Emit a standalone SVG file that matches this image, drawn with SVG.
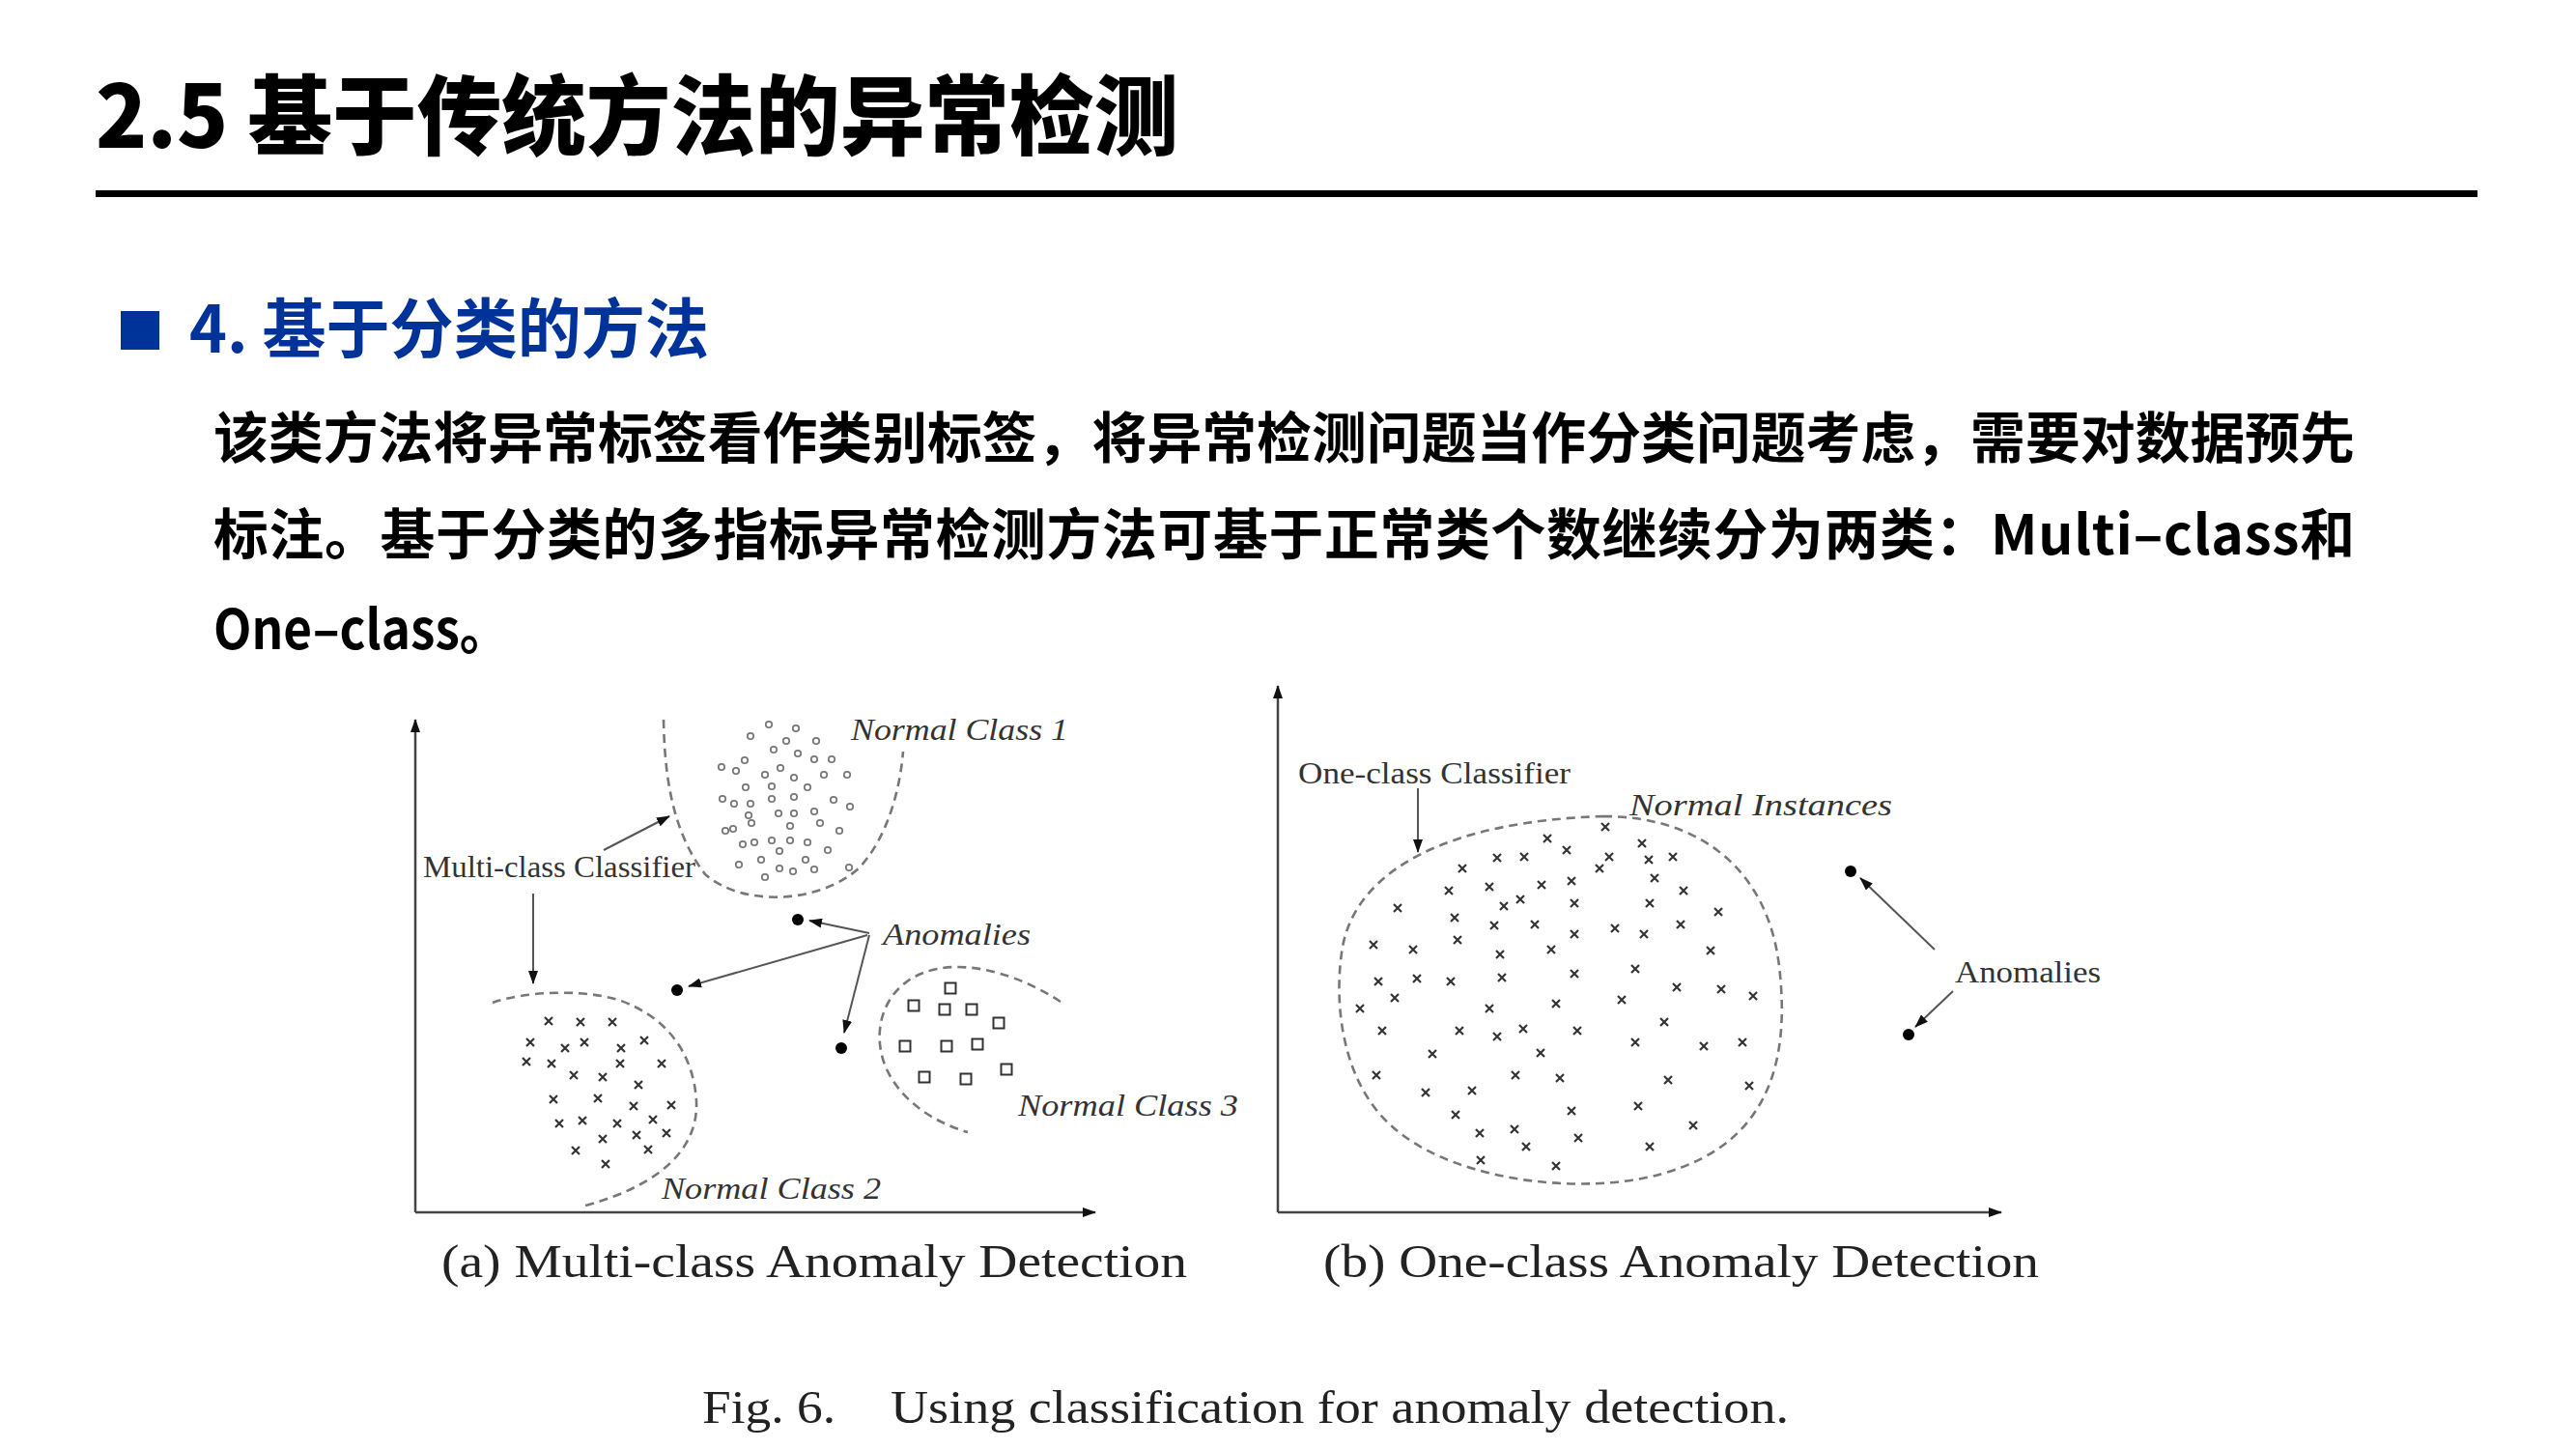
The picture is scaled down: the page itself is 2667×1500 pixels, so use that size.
<svg xmlns="http://www.w3.org/2000/svg" xmlns:xlink="http://www.w3.org/1999/xlink" width="2667" height="1500" viewBox="0 0 2667 1500">
<style>
.cjk{font-family:"Noto Sans CJK SC","Noto Sans",sans-serif;font-weight:700}
.ttl{font-size:90px;fill:#000;font-weight:900}
.h2{font-size:67px;fill:#003399}
.para{font-size:56.8px;fill:#000}
.lbl{font-family:"Liberation Serif","DejaVu Serif",serif;font-size:32px;fill:#333}
.it{font-style:italic}
.cap{font-family:"Liberation Serif","DejaVu Serif",serif;font-size:48px;fill:#222}
.axis{stroke:#444;stroke-width:2.5;fill:none}
.dash{stroke:#777;stroke-width:2.6;fill:none;stroke-dasharray:9 6}
.arr{stroke:#555;stroke-width:2;fill:none}
.xm{stroke:#333;stroke-width:2.2;fill:none}
.dot{stroke:#777;stroke-width:1.8;fill:#fff}
.sq{stroke:#333;stroke-width:2;fill:#fff}
.an{fill:#000}
</style>
<defs>
<marker id="ah" markerUnits="userSpaceOnUse" markerWidth="14" markerHeight="10" refX="13" refY="5" orient="auto">
<path d="M0,0 L14,5 L0,10 z" fill="#111"/>
</marker>
<path id="x" d="M-4,-4 L4,4 M-4,4 L4,-4" class="xm"/>
<circle id="o" r="3.2" class="dot"/>
<rect id="s" x="-5.5" y="-5.5" width="11" height="11" class="sq"/>
</defs>
<rect width="2667" height="1500" fill="#fff"/>

<g id="title">
<text class="cjk ttl" x="99" y="153" textLength="1121" lengthAdjust="spacingAndGlyphs">2.5 基于传统方法的异常检测</text>
<rect x="99" y="197" width="2466" height="7" fill="#000"/>
</g>

<g id="section-heading">
<rect x="125" y="322" width="40" height="40" fill="#003399"/>
<text class="cjk h2" x="196" y="365" textLength="538" lengthAdjust="spacingAndGlyphs">4. 基于分类的方法</text>
</g>

<g id="paragraph">
<text class="cjk para" x="221" y="474" textLength="2217" lengthAdjust="spacing">该类方法将异常标签看作类别标签，将异常检测问题当作分类问题考虑，需要对数据预先</text>
<text class="cjk para" x="221" y="574" textLength="2217" lengthAdjust="spacing">标注。基于分类的多指标异常检测方法可基于正常类个数继续分为两类：Multi–class和</text>
<text class="cjk para" x="221" y="672" textLength="306" lengthAdjust="spacingAndGlyphs">One–class。</text>
</g>

<g id="panel-a">
<g id="axes-a">
<path class="axis" d="M430,1255 L430,745" marker-end="url(#ah)"/>
<path class="axis" d="M430,1255 L1134,1255" marker-end="url(#ah)"/>
</g>
<g id="class1">
<path class="dash" d="M687,745 C688,800 695,860 730,905 C770,940 850,935 890,898 C920,865 932,815 935,778"/>
<use href="#o" x="796" y="750"/><use href="#o" x="824" y="754"/><use href="#o" x="777" y="762"/><use href="#o" x="814" y="767"/>
<use href="#o" x="845" y="767"/><use href="#o" x="801" y="776"/><use href="#o" x="826" y="780"/><use href="#o" x="771" y="787"/>
<use href="#o" x="843" y="786"/><use href="#o" x="861" y="786"/><use href="#o" x="747" y="794"/><use href="#o" x="762" y="798"/>
<use href="#o" x="808" y="795"/><use href="#o" x="792" y="802"/><use href="#o" x="822" y="805"/><use href="#o" x="853" y="802"/>
<use href="#o" x="877" y="802"/><use href="#o" x="772" y="815"/><use href="#o" x="799" y="814"/><use href="#o" x="836" y="815"/>
<use href="#o" x="748" y="827"/><use href="#o" x="760" y="832"/><use href="#o" x="777" y="832"/><use href="#o" x="799" y="827"/>
<use href="#o" x="822" y="825"/><use href="#o" x="863" y="828"/><use href="#o" x="880" y="835"/><use href="#o" x="775" y="844"/>
<use href="#o" x="806" y="842"/><use href="#o" x="822" y="842"/><use href="#o" x="843" y="840"/><use href="#o" x="778" y="852"/>
<use href="#o" x="818" y="855"/><use href="#o" x="849" y="852"/><use href="#o" x="869" y="860"/><use href="#o" x="751" y="860"/>
<use href="#o" x="759" y="858"/><use href="#o" x="769" y="874"/><use href="#o" x="781" y="872"/><use href="#o" x="799" y="870"/>
<use href="#o" x="818" y="870"/><use href="#o" x="836" y="872"/><use href="#o" x="857" y="880"/><use href="#o" x="807" y="881"/>
<use href="#o" x="788" y="890"/><use href="#o" x="834" y="890"/><use href="#o" x="765" y="895"/><use href="#o" x="807" y="899"/>
<use href="#o" x="821" y="902"/><use href="#o" x="843" y="900"/><use href="#o" x="879" y="898"/><use href="#o" x="792" y="908"/>
<text class="lbl it" x="881" y="766" textLength="225" lengthAdjust="spacingAndGlyphs">Normal Class 1</text>
</g>
<g id="class2">
<path class="dash" d="M510,1038 C540,1027 600,1023 640,1035 C690,1052 718,1090 721,1140 C723,1185 690,1225 606,1248"/>
<use href="#x" x="568" y="1057"/><use href="#x" x="601" y="1058"/><use href="#x" x="634" y="1058"/><use href="#x" x="549" y="1079"/>
<use href="#x" x="585" y="1085"/><use href="#x" x="605" y="1079"/><use href="#x" x="643" y="1085"/><use href="#x" x="667" y="1077"/>
<use href="#x" x="545" y="1099"/><use href="#x" x="571" y="1101"/><use href="#x" x="642" y="1101"/><use href="#x" x="685" y="1101"/>
<use href="#x" x="594" y="1113"/><use href="#x" x="624" y="1115"/><use href="#x" x="661" y="1123"/><use href="#x" x="573" y="1138"/>
<use href="#x" x="619" y="1137"/><use href="#x" x="656" y="1145"/><use href="#x" x="695" y="1144"/><use href="#x" x="579" y="1163"/>
<use href="#x" x="603" y="1160"/><use href="#x" x="639" y="1163"/><use href="#x" x="676" y="1159"/><use href="#x" x="624" y="1179"/>
<use href="#x" x="659" y="1175"/><use href="#x" x="690" y="1173"/><use href="#x" x="596" y="1191"/><use href="#x" x="671" y="1190"/>
<use href="#x" x="627" y="1205"/>
<text class="lbl it" x="685" y="1241" textLength="227" lengthAdjust="spacingAndGlyphs">Normal Class 2</text>
</g>
<g id="class3">
<path class="dash" d="M1098,1037 C1060,1012 1010,995 970,1003 C925,1012 905,1050 912,1088 C920,1130 960,1160 1002,1172"/>
<use href="#s" x="984" y="1023"/><use href="#s" x="946" y="1041"/><use href="#s" x="978" y="1045"/><use href="#s" x="1006" y="1045"/>
<use href="#s" x="1034" y="1059"/><use href="#s" x="937" y="1083"/><use href="#s" x="980" y="1083"/><use href="#s" x="1012" y="1081"/>
<use href="#s" x="1042" y="1107"/><use href="#s" x="957" y="1115"/><use href="#s" x="1000" y="1117"/>
<text class="lbl it" x="1054" y="1155" textLength="228" lengthAdjust="spacingAndGlyphs">Normal Class 3</text>
</g>
<g id="anomalies-a">
<circle class="an" cx="826" cy="952" r="6"/>
<circle class="an" cx="701" cy="1025" r="6"/>
<circle class="an" cx="871" cy="1085" r="6"/>
<text class="lbl it" x="914" y="978" textLength="153" lengthAdjust="spacingAndGlyphs">Anomalies</text>
</g>
<g id="classifier-a">
<text class="lbl" x="438" y="908" textLength="282" lengthAdjust="spacingAndGlyphs">Multi-class Classifier</text>
</g>
</g>

<g id="panel-b">
<g id="axes-b">
<path class="axis" d="M1323,1255 L1323,710" marker-end="url(#ah)"/>
<path class="axis" d="M1323,1255 L2072,1255" marker-end="url(#ah)"/>
</g>
<g id="normal-instances">
<path class="dash" d="M1660,845 C1760,845 1830,900 1842,1000 C1855,1110 1825,1195 1700,1220 C1620,1235 1500,1220 1440,1165 C1390,1120 1380,1040 1390,980 C1405,900 1500,850 1660,845 Z"/>
<use href="#x" x="1662" y="856"/><use href="#x" x="1602" y="868"/><use href="#x" x="1700" y="873"/><use href="#x" x="1622" y="880"/>
<use href="#x" x="1550" y="888"/><use href="#x" x="1578" y="887"/><use href="#x" x="1666" y="887"/><use href="#x" x="1707" y="890"/>
<use href="#x" x="1732" y="887"/><use href="#x" x="1656" y="899"/><use href="#x" x="1514" y="899"/><use href="#x" x="1542" y="918"/>
<use href="#x" x="1596" y="916"/><use href="#x" x="1627" y="912"/><use href="#x" x="1713" y="909"/><use href="#x" x="1500" y="922"/>
<use href="#x" x="1743" y="922"/><use href="#x" x="1574" y="931"/><use href="#x" x="1557" y="938"/><use href="#x" x="1630" y="935"/>
<use href="#x" x="1708" y="935"/><use href="#x" x="1447" y="940"/><use href="#x" x="1779" y="944"/><use href="#x" x="1506" y="950"/>
<use href="#x" x="1547" y="958"/><use href="#x" x="1589" y="957"/><use href="#x" x="1672" y="961"/><use href="#x" x="1740" y="957"/>
<use href="#x" x="1630" y="967"/><use href="#x" x="1702" y="967"/><use href="#x" x="1509" y="973"/><use href="#x" x="1422" y="978"/>
<use href="#x" x="1463" y="983"/><use href="#x" x="1553" y="988"/><use href="#x" x="1606" y="983"/><use href="#x" x="1771" y="984"/>
<use href="#x" x="1630" y="1008"/><use href="#x" x="1693" y="1003"/><use href="#x" x="1427" y="1016"/><use href="#x" x="1467" y="1013"/>
<use href="#x" x="1502" y="1016"/><use href="#x" x="1555" y="1012"/><use href="#x" x="1736" y="1022"/><use href="#x" x="1782" y="1024"/>
<use href="#x" x="1815" y="1031"/><use href="#x" x="1444" y="1033"/><use href="#x" x="1679" y="1035"/><use href="#x" x="1408" y="1044"/>
<use href="#x" x="1542" y="1044"/><use href="#x" x="1611" y="1039"/><use href="#x" x="1723" y="1058"/><use href="#x" x="1431" y="1067"/>
<use href="#x" x="1511" y="1067"/><use href="#x" x="1550" y="1073"/><use href="#x" x="1577" y="1065"/><use href="#x" x="1633" y="1067"/>
<use href="#x" x="1693" y="1079"/><use href="#x" x="1764" y="1083"/><use href="#x" x="1804" y="1079"/><use href="#x" x="1483" y="1091"/>
<use href="#x" x="1595" y="1090"/><use href="#x" x="1425" y="1113"/><use href="#x" x="1569" y="1113"/><use href="#x" x="1615" y="1116"/>
<use href="#x" x="1727" y="1118"/><use href="#x" x="1811" y="1124"/><use href="#x" x="1476" y="1131"/><use href="#x" x="1524" y="1129"/>
<use href="#x" x="1696" y="1145"/><use href="#x" x="1627" y="1150"/><use href="#x" x="1507" y="1154"/><use href="#x" x="1753" y="1165"/>
<use href="#x" x="1532" y="1173"/><use href="#x" x="1568" y="1169"/><use href="#x" x="1634" y="1178"/><use href="#x" x="1580" y="1187"/>
<use href="#x" x="1708" y="1187"/><use href="#x" x="1533" y="1201"/><use href="#x" x="1611" y="1207"/>
<text class="lbl it" x="1687" y="844" textLength="272" lengthAdjust="spacingAndGlyphs">Normal Instances</text>
</g>
<g id="classifier-b">
<text class="lbl" x="1344" y="811" textLength="282" lengthAdjust="spacingAndGlyphs">One-class Classifier</text>
</g>
<g id="anomalies-b">
<circle class="an" cx="1916" cy="902" r="6"/>
<circle class="an" cx="1976" cy="1071" r="6"/>
<text class="lbl" x="2024" y="1017" textLength="151" lengthAdjust="spacingAndGlyphs">Anomalies</text>
</g>
</g>

<g id="connectors">
<path class="arr" d="M625,880 L693,845" marker-end="url(#ah)"/>
<path class="arr" d="M552,925 L552,1018" marker-end="url(#ah)"/>
<path class="arr" d="M900,966 L838,953" marker-end="url(#ah)"/>
<path class="arr" d="M898,968 L713,1021" marker-end="url(#ah)"/>
<path class="arr" d="M900,968 L874,1069" marker-end="url(#ah)"/>
<path class="arr" d="M1468,816 L1468,882" marker-end="url(#ah)"/>
<path class="arr" d="M2003,983 L1926,909" marker-end="url(#ah)"/>
<path class="arr" d="M2022,1026 L1983,1063" marker-end="url(#ah)"/>
</g>

<g id="captions">
<text class="cap" x="457" y="1322" textLength="772" lengthAdjust="spacingAndGlyphs">(a) Multi-class Anomaly Detection</text>
<text class="cap" x="1370" y="1322" textLength="741" lengthAdjust="spacingAndGlyphs">(b) One-class Anomaly Detection</text>
<text class="cap" x="727" y="1473" textLength="138" lengthAdjust="spacingAndGlyphs">Fig. 6.</text>
<text class="cap" x="922" y="1473" textLength="930" lengthAdjust="spacingAndGlyphs">Using classification for anomaly detection.</text>
</g>
</svg>
